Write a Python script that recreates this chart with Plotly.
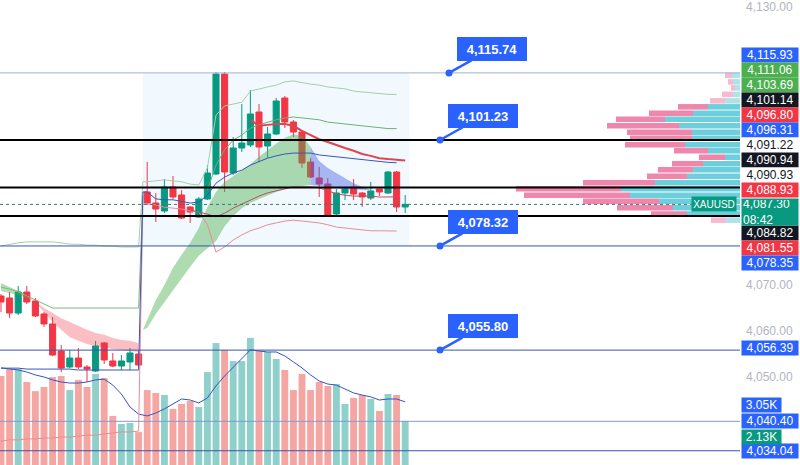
import plotly.graph_objects as go

# ---------------- data ----------------
candle_idx = list(range(48))
open_ = [4067.50, 4067.07, 4063.82, 4068.36, 4066.42, 4063.61, 4061.45, 4055.61, 4052.15, 4054.09,
         4052.15, 4051.28, 4057.34, 4053.45, 4052.36, 4053.23, 4054.96, 4089.99, 4087.61, 4085.88,
         4091.07, 4089.34, 4086.74, 4084.58, 4088.47, 4093.88, 4115.50, 4094.09, 4099.50, 4100.15,
         4107.28, 4099.93, 4102.53, 4110.31, 4105.12, 4102.96, 4096.47, 4093.01, 4091.72, 4085.23,
         4089.77, 4091.07, 4089.77, 4088.69, 4090.64, 4089.77, 4094.31, 4086.74]
high = [4067.93, 4068.36, 4069.66, 4069.66, 4067.07, 4064.04, 4062.96, 4056.91, 4055.82, 4056.26,
        4052.58, 4057.77, 4057.55, 4055.18, 4054.74, 4056.26, 4055.61, 4096.47, 4089.77, 4092.80,
        4093.45, 4090.42, 4086.96, 4088.91, 4095.82, 4115.93, 4115.93, 4101.88, 4109.01, 4112.04,
        4109.01, 4104.04, 4110.31, 4110.74, 4105.55, 4103.39, 4097.34, 4095.39, 4093.01, 4090.64,
        4091.07, 4092.80, 4089.99, 4092.15, 4090.85, 4094.53, 4094.53, 4089.34]
low = [4064.04, 4062.74, 4063.39, 4065.77, 4062.96, 4060.80, 4054.50, 4051.07, 4051.90, 4051.72,
       4048.91, 4051.07, 4052.80, 4052.15, 4051.50, 4051.50, 4051.93, 4087.18, 4083.50, 4085.45,
       4088.47, 4084.15, 4083.28, 4084.36, 4088.26, 4093.66, 4089.99, 4093.66, 4098.64, 4099.72,
       4096.47, 4097.34, 4102.31, 4103.82, 4101.88, 4095.18, 4093.01, 4088.91, 4084.58, 4084.80,
       4088.26, 4088.26, 4086.74, 4088.26, 4089.12, 4089.55, 4085.66, 4085.45]
close = [4066.20, 4063.82, 4068.36, 4066.20, 4063.18, 4061.45, 4054.74, 4051.93, 4054.09, 4052.15,
         4051.72, 4056.69, 4053.66, 4052.36, 4053.45, 4055.18, 4052.58, 4087.61, 4086.31, 4091.07,
         4088.91, 4084.36, 4085.66, 4088.47, 4094.09, 4115.50, 4094.31, 4099.50, 4100.58, 4106.85,
         4099.72, 4102.53, 4109.66, 4105.12, 4102.96, 4096.26, 4093.23, 4091.72, 4084.80, 4089.77,
         4090.64, 4089.55, 4088.91, 4090.20, 4089.99, 4094.31, 4086.74, 4087.30]

volume_k = [4.30, 4.64, 4.64, 4.01, 3.57, 3.77, 4.25, 4.30, 3.62, 4.11,
            3.77, 4.40, 4.20, 2.37, 1.98, 2.03, 1.59, 3.62, 3.48, 3.38,
            2.71, 2.95, 3.09, 2.80, 4.49, 5.89, 5.56, 5.02, 5.02, 6.14,
            5.51, 5.46, 5.12, 4.59, 3.62, 4.40, 3.62, 4.01, 3.82, 3.91,
            2.95, 3.24, 3.38, 3.19, 2.61, 3.43, 3.38, 2.13]
volume_ma_k = [4.69, 4.64, 4.59, 4.49, 4.35, 4.25, 4.11, 4.01, 3.96, 3.96,
               4.01, 4.11, 4.15, 3.86, 3.43, 2.80, 2.46, 2.37, 2.51, 2.71,
               2.95, 3.19, 3.14, 3.00, 3.24, 3.82, 4.30, 4.73, 5.17, 5.56,
               5.51, 5.46, 5.46, 5.27, 4.98, 4.69, 4.35, 4.06, 3.91, 3.86,
               3.67, 3.48, 3.38, 3.29, 3.14, 3.19, 3.19, 3.05]

# band lines (the jump between sessions sits at index 16.5)
band_x = list(range(17)) + [16.5] + list(range(17, 47))
band_upper = [4078.3, 4078.7, 4079.0, 4079.2, 4079.2, 4079.2, 4079.2, 4079.0, 4078.7, 4078.7,
              4078.5, 4078.5, 4078.3, 4078.3, 4078.1, 4078.1, 4078.1, 4092.2,
              4092.2, 4092.4, 4092.6, 4092.4, 4092.2, 4091.7, 4091.5, 4095.2, 4106.6, 4108.6,
              4109.0, 4109.4, 4111.8, 4112.3, 4112.7, 4113.1, 4113.8, 4114.0, 4113.6, 4113.3,
              4113.1, 4112.7, 4112.5, 4112.3, 4111.8, 4111.6, 4111.4, 4111.2, 4111.1, 4111.06]
band_basis = [4051.9, 4051.9, 4051.9, 4051.7, 4051.7, 4051.7, 4051.7, 4051.7, 4051.7, 4051.5,
              4051.5, 4051.5, 4051.5, 4051.5, 4051.5, 4051.5, 4051.5, 4090.0,
              4090.0, 4088.5, 4088.3, 4088.3, 4088.0, 4087.6, 4087.8, 4089.3, 4091.9, 4093.2,
              4094.1, 4094.7, 4095.8, 4096.5, 4097.3, 4097.8, 4098.2, 4098.4, 4098.4, 4098.4,
              4098.0, 4097.8, 4097.6, 4097.3, 4097.1, 4096.9, 4096.7, 4096.5, 4096.4, 4096.31]
band_lower = [4036.1, 4036.4, 4036.4, 4036.6, 4036.6, 4036.8, 4036.8, 4037.0, 4037.0, 4037.2,
              4037.4, 4037.4, 4037.7, 4037.9, 4038.1, 4038.1, 4038.3, 4087.4,
              4087.4, 4087.2, 4086.7, 4086.5, 4086.3, 4085.9, 4085.7, 4082.9, 4077.0, 4078.1,
              4079.6, 4080.7, 4081.6, 4082.2, 4082.9, 4083.3, 4083.7, 4083.9, 4083.7, 4083.5,
              4083.3, 4082.9, 4082.4, 4082.2, 4082.0, 4081.8, 4081.6, 4081.6, 4081.55, 4081.55]

mid_green_x = list(range(17)) + [16.5]
mid_green = [4069.4, 4069.0, 4068.4, 4067.5, 4066.6, 4065.8, 4064.9, 4064.9, 4064.9, 4064.9,
             4064.9, 4064.9, 4064.9, 4064.9, 4064.9, 4064.9, 4064.9, 4089.1]

outer_green_x = list(range(24, 47))
outer_green = [4090.4, 4095.8, 4099.1, 4101.2, 4102.3, 4103.8, 4104.5, 4105.1, 4105.6, 4106.0,
               4106.2, 4106.0, 4105.8, 4105.6, 4105.1, 4104.9, 4104.7, 4104.5, 4104.3, 4104.0,
               4103.8, 4103.7, 4103.69]

red_ema_x = list(range(29, 48))
red_ema = [4105.6, 4104.3, 4104.5, 4104.7, 4104.7, 4104.3, 4103.2, 4102.3, 4101.4, 4100.8,
           4100.1, 4099.5, 4098.9, 4098.2, 4097.8, 4097.3, 4097.1, 4096.9, 4096.80]

dark_red_x = list(range(22, 47))
dark_red = [4086.1, 4085.7, 4085.2, 4084.6, 4085.4, 4086.5, 4087.4, 4088.3, 4089.1, 4089.8,
            4090.2, 4090.6, 4091.1, 4091.1, 4091.1, 4090.9, 4090.2, 4089.6, 4089.3, 4089.1,
            4089.1, 4089.1, 4088.9, 4088.9, 4088.93]

# trend clouds (fast / slow lines)
cloud1_x = [0, 1, 2, 3, 4]
cloud1_fast = [4070.3, 4069.4, 4068.6, 4067.5, 4066.2]
cloud1_slow = [4068.6, 4068.2, 4067.7, 4067.1, 4066.2]
cloud2_x = list(range(4, 17))
cloud2_fast = [4066.2, 4064.0, 4061.9, 4060.2, 4058.6, 4057.8, 4057.1, 4056.7, 4056.5, 4056.0, 4055.8, 4055.6, 4055.4]
cloud2_slow = [4066.2, 4064.9, 4063.8, 4062.7, 4061.9, 4061.0, 4060.2, 4059.5, 4059.1, 4058.4, 4058.0, 4057.8, 4057.3]
cloud3_x = [16.5] + list(range(17, 37))
cloud3_fast = [4060.2, 4062.3, 4066.6, 4069.9, 4073.6, 4076.4, 4079.0, 4082.2, 4086.7, 4090.0,
               4092.2, 4093.4, 4094.7, 4096.0, 4097.6, 4099.1, 4100.4, 4101.7, 4102.5, 4102.1, 4099.7]
cloud3_slow = [4060.2, 4060.6, 4063.6, 4066.2, 4068.8, 4071.2, 4073.8, 4076.2, 4077.9, 4079.4,
               4082.6, 4084.8, 4086.5, 4087.6, 4088.5, 4089.3, 4090.0, 4090.6, 4091.1, 4091.3, 4091.5]
cloud4_x = list(range(36, 44))
cloud4_fast = [4099.7, 4096.7, 4095.2, 4094.1, 4093.0, 4091.9, 4091.1, 4090.4]
cloud4_slow = [4091.5, 4091.3, 4091.1, 4090.9, 4090.6, 4090.6, 4090.4, 4090.4]

# visible-range volume profile
profile_levels = [4115.2, 4113.8, 4112.5, 4111.1, 4109.7, 4108.4, 4107.0, 4105.7, 4104.3, 4102.9,
                  4101.6, 4100.2, 4098.9, 4097.5, 4096.1, 4094.8, 4093.4, 4092.0, 4090.7, 4089.3,
                  4088.0, 4086.6, 4085.2, 4083.9]
profile_up = [8, 7, 5, 7, 15, 32, 47, 75, 61, 48, 48, 55, 32, 15, 37, 47, 53, 85, 119, 110, 81, 67, 53, 14]
profile_down = [7, 5, 4, 11, 15, 30, 44, 49, 72, 65, 62, 60, 34, 26, 31, 35, 40, 72, 105, 106, 76, 56, 36, 15]
profile_in_value_area = [False] * 5 + [True] * 18 + [False]

# drawn levels
level_top = 4115.74
levels_black = [4101.23, 4090.94, 4084.82]
levels_blue = [4078.32, 4055.80, 4034.04]
level_light = 4040.40
last_price = 4087.30
callouts = [("4,115.74", 4115.74, 449), ("4,101.23", 4101.23, 440),
            ("4,078.32", 4078.32, 440), ("4,055.80", 4055.80, 440)]

axis_ticks = [4130, 4070, 4060, 4050]
scale_labels = [
    ("4,115.93", 55, "#2962FF", "white"), ("4,111.06", 70, "#4CAF50", "white"),
    ("4,103.69", 85, "#4CAF50", "white"), ("4,101.14", 100, "#131722", "white"),
    ("4,096.80", 115, "#F23645", "white"), ("4,096.31", 130, "#2962FF", "white"),
    ("4,091.22", 145, "white", "#131722"), ("4,090.94", 160, "#131722", "white"),
    ("4,090.93", 175, "white", "#131722"), ("4,088.93", 190, "#F23645", "white"),
    ("4,084.82", 233, "#131722", "white"), ("4,081.55", 248, "#F23645", "white"),
    ("4,078.35", 263, "#2962FF", "white"), ("4,056.39", 348, "#2962FF", "white"),
    ("4,040.40", 421, "#2962FF", "white"), ("4,034.04", 451, "#2962FF", "white"),
]
volume_labels = [("3.05K", 405, "#2962FF"), ("2.13K", 437, "#089981")]

# ---------------- figure ----------------
W, H = 800, 465
PLOT_W = 740
PX_PER_BAR = 8.6
x_lo = -1.0 / PX_PER_BAR
x_hi = x_lo + PLOT_W / PX_PER_BAR
y_top = 4131.5
y_bot = y_top - H / 4.625

GREEN, RED = "#089981", "#F23645"
up = [c >= o for o, c in zip(open_, close)]

fig = go.Figure()

# volume (base subplot, drawn first)
fig.add_trace(go.Bar(x=candle_idx, y=volume_k, width=0.8, xaxis="x", yaxis="y",
                     marker=dict(color=["#8FD0CA" if u else "#F5A6A3" for u in up], line_width=0),
                     hoverinfo="skip"))
fig.add_trace(go.Scatter(x=candle_idx, y=volume_ma_k, mode="lines", xaxis="x", yaxis="y",
                         line=dict(color="#3553C6", width=1), hoverinfo="skip"))

# clouds
def cloud(xs, slow, fast, color):
    fig.add_trace(go.Scatter(x=xs, y=slow, mode="lines", line=dict(width=0), yaxis="y2",
                             hoverinfo="skip"))
    fig.add_trace(go.Scatter(x=xs, y=fast, mode="lines", line=dict(width=0), yaxis="y2",
                             fill="tonexty", fillcolor=color, hoverinfo="skip"))

cloud(cloud1_x, cloud1_slow, cloud1_fast, "rgba(76,175,80,0.42)")
cloud(cloud2_x, cloud2_slow, cloud2_fast, "rgba(242,54,69,0.32)")
cloud(cloud3_x, cloud3_slow, cloud3_fast, "rgba(76,175,80,0.45)")
cloud(cloud4_x, cloud4_slow, cloud4_fast, "rgba(70,100,230,0.45)")

def line(xs, ys, color, width=1):
    fig.add_trace(go.Scatter(x=xs, y=ys, mode="lines", yaxis="y2", hoverinfo="skip",
                             line=dict(color=color, width=width)))

line(band_x, band_upper, "#A5CFA7")
line(mid_green_x, mid_green, "#7DB880")
line(outer_green_x, outer_green, "#6DB171")
line(band_x, band_lower, "#E98C94")
line(dark_red_x, dark_red, "#B8545A")
line(band_x, band_basis, "#3B55B8")
line(red_ema_x, red_ema, "#E0454D", 2)

fig.add_trace(go.Candlestick(x=candle_idx, open=open_, high=high, low=low, close=close,
                             yaxis="y2",
                             increasing=dict(line=dict(color=GREEN, width=1), fillcolor=GREEN),
                             decreasing=dict(line=dict(color=RED, width=1), fillcolor=RED),
                             hoverinfo="skip"))

# volume profile (right-anchored, on its own reversed x axis)
up_col = ["#6DCFDB" if v else "#AEE3EA" for v in profile_in_value_area]
dn_col = ["#EF86AB" if v else "#F6B9CE" for v in profile_in_value_area]
fig.add_trace(go.Bar(y=profile_levels, x=profile_up, base=0, orientation="h", width=1.2,
                     xaxis="x2", yaxis="y2", marker=dict(color=up_col, line_width=0),
                     hoverinfo="skip"))
fig.add_trace(go.Bar(y=profile_levels, x=profile_down, base=profile_up, orientation="h", width=1.2,
                     xaxis="x2", yaxis="y2", marker=dict(color=dn_col, line_width=0),
                     hoverinfo="skip"))

shapes = [
    dict(type="rect", xref="x", yref="y2", x0=16.5, x1=47.5, y0=levels_blue[0], y1=level_top,
         fillcolor="rgba(33,150,243,0.06)", line_width=0, layer="below"),
    dict(type="line", xref="x domain", yref="y2", x0=0, x1=1, y0=level_top, y1=level_top,
         line=dict(color="#9DB2D6", width=1)),
    dict(type="line", xref="x domain", yref="y2", x0=0, x1=1, y0=level_light, y1=level_light,
         line=dict(color="#7F9CDA", width=1)),
    dict(type="line", xref="x domain", yref="y2", x0=0, x1=693 / PLOT_W, y0=last_price, y1=last_price,
         line=dict(color="#3C7A70", width=1, dash="dot")),
]
for v in levels_black:
    shapes.append(dict(type="line", xref="x domain", yref="y2", x0=0, x1=1, y0=v, y1=v,
                       line=dict(color="#000000", width=2)))
for v in levels_blue:
    shapes.append(dict(type="line", xref="x domain", yref="y2", x0=0, x1=1, y0=v, y1=v,
                       line=dict(color="#3A55A8", width=1)))

annotations = []
for txt, v, px in callouts:
    annotations.append(dict(
        x=(px - 1) / PX_PER_BAR, y=v, xref="x", yref="y2", text="<b>%s</b>" % txt,
        showarrow=True, ax=43, ay=-24, axref="pixel", ayref="pixel",
        arrowhead=6, arrowsize=0.7, arrowwidth=2.5, arrowcolor="#2962FF",
        bgcolor="#2962FF", bordercolor="#2962FF", borderpad=3, width=62, height=16,
        font=dict(color="white", size=13, family="Liberation Sans, Arial")))

lab_font = "Liberation Sans, Arial"
for txt, py, bg, fg in scale_labels:
    annotations.append(dict(x=741 / W, y=1 - py / H, xref="paper", yref="paper",
                            xanchor="left", yanchor="middle", text=txt, showarrow=False,
                            bgcolor=bg, borderpad=1, width=54, height=12,
                            font=dict(color=fg, size=12, family=lab_font)))
annotations.append(dict(x=741 / W, y=1 - 212 / H, xref="paper", yref="paper",
                        xanchor="left", yanchor="middle", text="4,087.30<br>08:42",
                        showarrow=False, bgcolor=GREEN, borderpad=1, width=54, height=24,
                        align="left", font=dict(color="white", size=12, family=lab_font)))
for txt, py, bg in volume_labels:
    annotations.append(dict(x=741 / W, y=1 - py / H, xref="paper", yref="paper",
                            xanchor="left", yanchor="middle", text=txt, showarrow=False,
                            bgcolor=bg, borderpad=1, width=37, height=12,
                            font=dict(color="white", size=12, family=lab_font)))
annotations.append(dict(x=737 / W, y=last_price, xref="paper", yref="y2",
                        xanchor="right", yanchor="middle", text="XAUUSD", showarrow=False,
                        bgcolor=GREEN, borderpad=1, width=42, height=12,
                        font=dict(color="white", size=10, family=lab_font)))

fig.update_layout(
    width=W, height=H, autosize=False, template="none",
    margin=dict(l=0, r=0, t=0, b=0),
    paper_bgcolor="white", plot_bgcolor="white",
    showlegend=False, barmode="overlay", boxgap=0.12, boxgroupgap=0.2,
    xaxis=dict(domain=[0, PLOT_W / W], range=[x_lo, x_hi], visible=False,
               rangeslider=dict(visible=False), fixedrange=True),
    xaxis2=dict(overlaying="x", range=[PLOT_W, 0], visible=False),
    yaxis=dict(domain=[0, 1], range=[0, H / 20.7], visible=False),
    yaxis2=dict(overlaying="y", side="right", anchor="x", range=[y_bot, y_top],
                tickvals=axis_ticks, ticktext=["{:,.2f}".format(t) for t in axis_ticks],
                showgrid=False, zeroline=False, showline=False, ticks="",
                ticklabelstandoff=5, automargin=False,
                tickfont=dict(color="#B2B5BE", size=12, family=lab_font)),
    shapes=shapes, annotations=annotations,
)

fig.write_html("out.html", config={"displayModeBar": False},
               post_script="document.body.style.margin='0';document.body.style.overflow='hidden';")
